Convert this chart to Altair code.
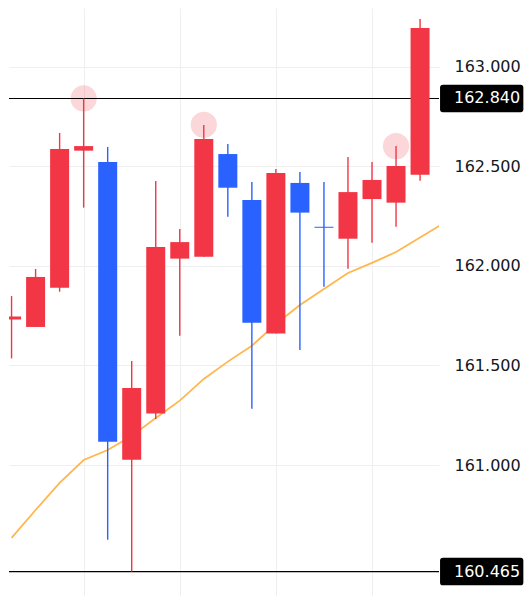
import altair as alt
import pandas as pd

# ---- data ----
idx = list(range(18))
opens = [161.730, 161.693, 161.890, 162.578, 162.521, 161.027, 161.258, 162.036, 162.046,
         162.561, 162.330, 161.660, 162.416, 162.196, 162.136, 162.335, 162.317, 162.457]
highs = [161.848, 161.984, 162.667, 162.840, 162.596, 161.522, 162.426, 162.185, 162.707,
         162.611, 162.421, 162.486, 162.471, 162.421, 162.546, 162.521, 162.601, 163.239]
lows = [161.535, 161.693, 161.870, 162.292, 160.625, 160.465, 161.231, 161.649, 162.046,
        162.246, 161.283, 161.660, 161.577, 161.895, 161.985, 162.116, 162.196, 162.427]
closes = [161.745, 161.944, 162.586, 162.601, 161.117, 161.387, 162.094, 162.119, 162.637,
          162.392, 161.714, 162.466, 162.267, 162.191, 162.370, 162.431, 162.501, 163.194]

ma_idx = list(range(19))
ma_vals = [160.634, 160.774, 160.910, 161.025, 161.075, 161.146, 161.236, 161.323, 161.432,
           161.519, 161.599, 161.708, 161.803, 161.884, 161.964, 162.015, 162.069, 162.142,
           162.215]

marker_idx = [3, 8, 16]
marker_price = [162.840, 162.708, 162.601]

level_prices = [162.840, 160.465]
level_labels = ["162.840", "160.465"]

tick_values = [161.0, 161.5, 162.0, 162.5, 163.0]
vgrid_values = [3, 7, 11, 15]

RED = "#F23645"
BLUE = "#2962FF"
GRID = "#efefef"

W, H = 430, 588

candles = pd.DataFrame(dict(i=idx, o=opens, h=highs, l=lows, c=closes))
candles["dir"] = ["up" if c >= o else "down" for o, c in zip(opens, closes)]
ma_df = pd.DataFrame(dict(i=ma_idx, ma=ma_vals))
marks_df = pd.DataFrame(dict(i=marker_idx, p=marker_price))
levels_df = pd.DataFrame(dict(p=level_prices, label=level_labels))

xscale = alt.Scale(domain=[0.1016, 17.58], nice=False, zero=False)
yscale = alt.Scale(domain=[160.3424, 163.2942], nice=False, zero=False)
xaxis = alt.Axis(values=vgrid_values, grid=True, gridColor=GRID, labels=False,
                 ticks=False, domain=False, title="")
yaxis = alt.Axis(values=tick_values, format=".3f", orient="right", grid=True,
                 gridColor=GRID, ticks=False, tickSize=0, domain=False, labelPadding=15,
                 labelFont="DejaVu Sans", labelFontSize=16, labelColor="#131722",
                 labelAlign="left", labelBaseline="middle", title="")


def X(f):
    return alt.X(f, type="quantitative", scale=xscale, axis=xaxis)


def Y(f):
    return alt.Y(f, type="quantitative", scale=yscale, axis=yaxis)


color = alt.Color("dir:N", scale=alt.Scale(domain=["up", "down"], range=[RED, BLUE]),
                  legend=None)

circles = alt.Chart(marks_df).mark_point(
    shape="circle", filled=True, size=690, color=RED, opacity=0.2, clip=True
).encode(x=X("i"), y=Y("p"))

ma_line = alt.Chart(ma_df).mark_line(color="#FFB74D", strokeWidth=1.8, clip=True).encode(
    x=X("i"), y=Y("ma")
)

hlines = alt.Chart(levels_df).mark_rule(color="black", strokeWidth=1.2).encode(y=Y("p"))

wicks = alt.Chart(candles).mark_rule(strokeWidth=1.4, clip=True).encode(
    x=X("i"), y=Y("l"), y2="h", color=color
)

bodies = alt.Chart(candles).mark_bar(size=19, clip=True).encode(
    x=X("i"), y=Y("o"), y2="c", color=color
)

box_path = ("M-0.93,-0.33 L0.93,-0.33 Q1,-0.33 1,-0.26 L1,0.26 Q1,0.33 0.93,0.33 "
            "L-0.93,0.33 Q-1,0.33 -1,0.26 L-1,-0.26 Q-1,-0.33 -0.93,-0.33 Z")
boxes = alt.Chart(levels_df).mark_point(
    shape=box_path, filled=True, size=6939, color="black", opacity=1
).encode(x=alt.value(472.7), y=Y("p"))

box_text = alt.Chart(levels_df).mark_text(
    align="left", baseline="middle", font="DejaVu Sans", fontSize=16, color="white"
).encode(x=alt.value(445), y=Y("p"), text="label:N")

chart = alt.layer(circles, ma_line, hlines, wicks, bodies, boxes, box_text).properties(
    width=W, height=H, padding=0
).configure_view(stroke="transparent")

chart.save("out.html", embed_options={"renderer": "svg", "actions": False})
